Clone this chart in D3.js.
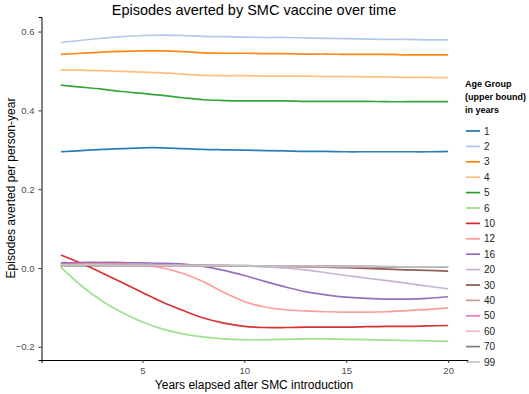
<!DOCTYPE html>
<html><head><meta charset="utf-8">
<script src="https://cdn.jsdelivr.net/npm/d3@7"></script>
<style>body{margin:0;background:#fff;} svg{display:block;font-family:"Liberation Sans",Arial,sans-serif;}</style>
</head><body><svg id="c" width="529" height="394"></svg>
<script>
const years = [1,2,3,4,5,6,7,8,9,10,11,12,13,14,15,16,17,18,19,20];
const groups = ["1","2","3","4","5","6","10","12","16","20","30","40","50","60","70","99"];
const colors = ["#1f77b4","#aec7e8","#ff7f0e","#ffbb78","#2ca02c","#98df8a","#d62728","#ff9896","#9467bd","#c5b0d5","#8c564b","#c49c94","#e377c2","#f7b6d2","#7f7f7f","#c7c7c7"];
const yTicks = [-0.2,0,0.2,0.4,0.6];
const xTicks = [5,10,15,20];

const g1  = [0.295,0.298,0.301,0.303,0.305,0.305,0.303,0.301,0.300,0.299,0.298,0.297,0.296,0.296,0.295,0.295,0.295,0.295,0.295,0.296];
const g2  = [0.572,0.578,0.583,0.587,0.590,0.591,0.590,0.588,0.587,0.586,0.585,0.585,0.584,0.583,0.582,0.581,0.580,0.580,0.579,0.579];
const g3  = [0.542,0.545,0.548,0.550,0.551,0.551,0.549,0.546,0.545,0.545,0.544,0.544,0.543,0.543,0.542,0.542,0.542,0.541,0.541,0.541];
const g4  = [0.503,0.502,0.501,0.499,0.497,0.495,0.492,0.489,0.488,0.488,0.487,0.487,0.487,0.486,0.486,0.485,0.485,0.484,0.484,0.483];
const g5  = [0.464,0.459,0.454,0.448,0.443,0.438,0.432,0.427,0.425,0.424,0.424,0.424,0.423,0.423,0.423,0.423,0.422,0.422,0.422,0.422];
const g6  = [0.002,-0.045,-0.083,-0.113,-0.137,-0.155,-0.167,-0.175,-0.180,-0.182,-0.182,-0.181,-0.180,-0.180,-0.181,-0.182,-0.183,-0.184,-0.185,-0.186];
const g10 = [0.033,0.012,-0.012,-0.037,-0.062,-0.087,-0.108,-0.127,-0.140,-0.148,-0.151,-0.151,-0.150,-0.150,-0.150,-0.149,-0.148,-0.148,-0.147,-0.146];
const g12 = [0.012,0.012,0.012,0.011,0.008,0.000,-0.014,-0.035,-0.062,-0.085,-0.099,-0.106,-0.109,-0.111,-0.112,-0.112,-0.111,-0.108,-0.105,-0.101];
const g16 = [0.013,0.014,0.014,0.014,0.013,0.012,0.010,0.004,-0.006,-0.019,-0.034,-0.048,-0.060,-0.068,-0.074,-0.077,-0.079,-0.079,-0.077,-0.073];
const g20 = [0.008,0.008,0.008,0.008,0.008,0.008,0.007,0.007,0.006,0.005,0.003,0.000,-0.005,-0.012,-0.019,-0.026,-0.032,-0.039,-0.046,-0.053];
const g30 = [0.006,0.006,0.006,0.006,0.006,0.006,0.006,0.006,0.005,0.005,0.005,0.004,0.003,0.002,0.001,-0.001,-0.003,-0.005,-0.006,-0.008];
const g40 = [0.007,0.007,0.007,0.007,0.007,0.006,0.006,0.006,0.006,0.005,0.005,0.005,0.004,0.004,0.004,0.003,0.003,0.003,0.002,0.002];
const g50 = [0.007,0.007,0.007,0.007,0.007,0.006,0.006,0.006,0.006,0.005,0.005,0.005,0.004,0.004,0.004,0.003,0.003,0.003,0.003,0.002];
const g60 = [0.007,0.007,0.007,0.007,0.007,0.006,0.006,0.006,0.006,0.005,0.005,0.005,0.004,0.004,0.004,0.004,0.003,0.003,0.003,0.003];
const g70 = [0.008,0.008,0.008,0.007,0.007,0.007,0.007,0.006,0.006,0.006,0.005,0.005,0.005,0.004,0.004,0.004,0.003,0.003,0.003,0.002];
const g99 = [0.008,0.008,0.008,0.007,0.007,0.007,0.007,0.006,0.006,0.006,0.005,0.005,0.005,0.004,0.004,0.004,0.004,0.003,0.003,0.003];
const seriesValues = [g1,g2,g3,g4,g5,g6,g10,g12,g16,g20,g30,g40,g50,g60,g70,g99];

const svg = d3.select("#c");
const x = d3.scaleLinear().domain([0.05,20.95]).range([41.5,467.5]);
const y = d3.scaleLinear().domain([-0.2335,0.637]).range([360,17]);

// axes
const xAxis = svg.append("g").attr("transform","translate(0,360)")
  .call(d3.axisBottom(x).tickValues(xTicks).tickSize(3).tickPadding(4).tickFormat(d3.format("d")));
const yAxis = svg.append("g").attr("transform","translate(41.5,0)")
  .call(d3.axisLeft(y).tickValues(yTicks).tickSize(3).tickPadding(4).tickFormat(d3.format(".1f")));
[xAxis,yAxis].forEach(a=>{
  a.select(".domain").attr("stroke","#000").attr("stroke-width",1);
  a.selectAll(".tick line").attr("stroke","#333");
  a.selectAll(".tick text").attr("fill","#4d4d4d").style("font-size","9.5px").style("font-family","Liberation Sans, Arial, sans-serif");
});

// lines
const line = d3.line().x((d,i)=>x(years[i])).y(d=>y(d)).curve(d3.curveCatmullRom.alpha(0.5));
seriesValues.forEach((vals,k)=>{
  svg.append("path").attr("d",line(vals)).attr("fill","none")
    .attr("stroke",colors[k]).attr("stroke-width",1.7).attr("stroke-opacity",0.95);
});

// title and axis titles
svg.append("text").attr("x",254).attr("y",15).attr("text-anchor","middle")
  .style("font-size","14.5px").text("Episodes averted by SMC vaccine over time");
svg.append("text").attr("x",254).attr("y",389).attr("text-anchor","middle")
  .style("font-size","12px").text("Years elapsed after SMC introduction");
svg.append("text").attr("transform","translate(15,188) rotate(-90)").attr("text-anchor","middle")
  .style("font-size","12px").text("Episodes averted per person-year");

// legend
const lg = svg.append("g");
["Age Group","(upper bound)","in years"].forEach((t,i)=>{
  lg.append("text").attr("x",465).attr("y",87+i*13).style("font-size","9px").style("font-weight","bold").text(t);
});
groups.forEach((gname,i)=>{
  const yy = 131 + i*15.4;
  lg.append("line").attr("x1",466).attr("x2",480).attr("y1",yy).attr("y2",yy)
    .attr("stroke",colors[i]).attr("stroke-width",1.7);
  lg.append("text").attr("x",484).attr("y",yy+3.5).style("font-size","10px").attr("fill","#222").text(gname);
});
</script></body></html>
